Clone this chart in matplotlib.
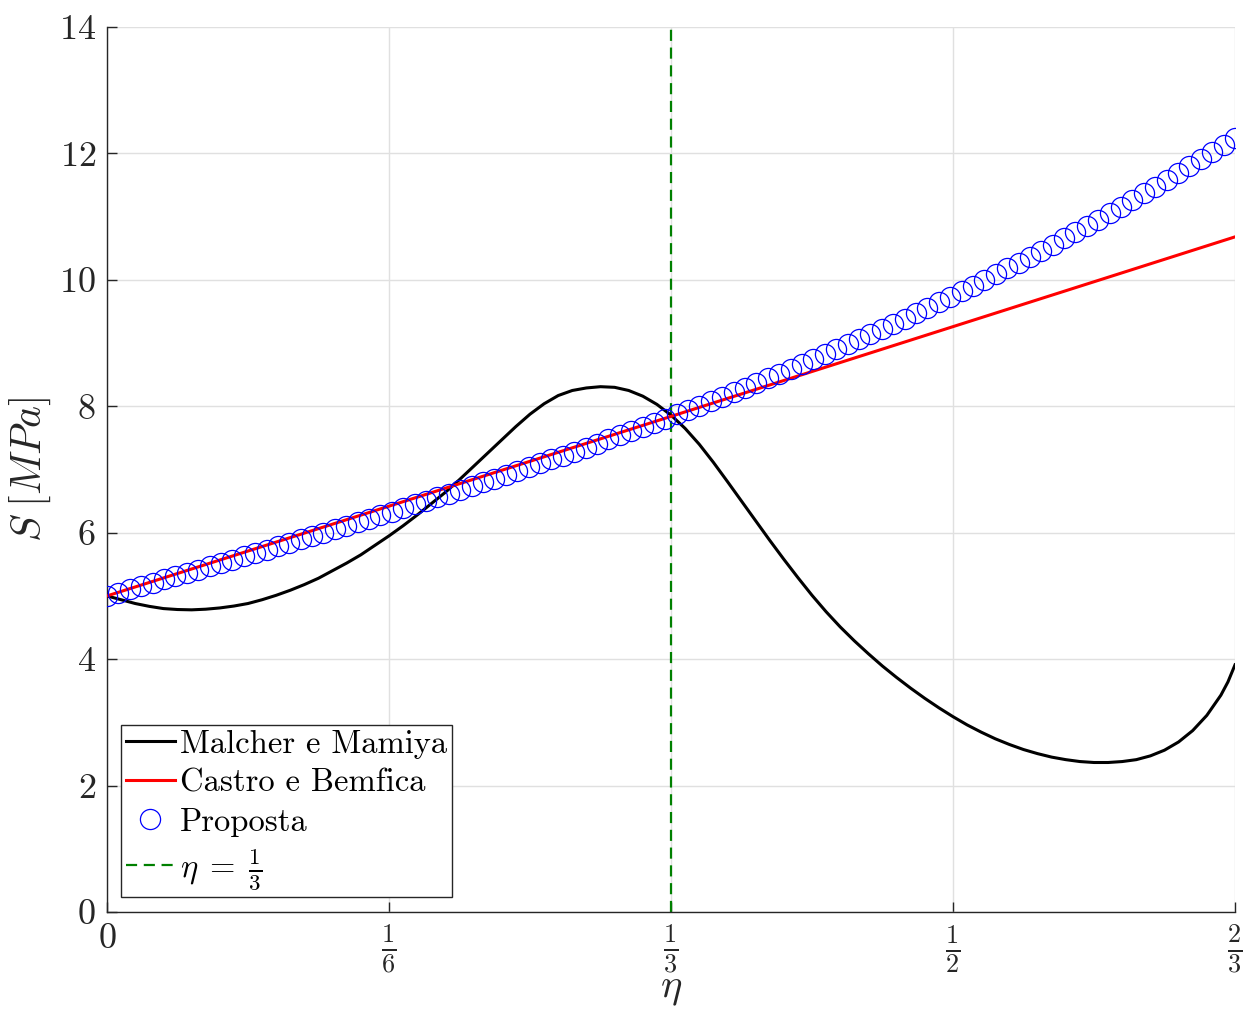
import numpy as np
import matplotlib
matplotlib.use("Agg")
import matplotlib.pyplot as plt

plt.rcParams['font.family'] = 'serif'
plt.rcParams['font.serif'] = ['cmr10']
plt.rcParams['mathtext.fontset'] = 'cm'
plt.rcParams['axes.unicode_minus'] = False

# ---------------- data ----------------
eta_max = 2 / 3

# Malcher e Mamiya
mm_x = [0.0, 0.00833, 0.01667, 0.025, 0.03333, 0.04167, 0.05, 0.05833, 0.06667, 0.075,
        0.08333, 0.09167, 0.1, 0.10833, 0.11667, 0.125, 0.13333, 0.14167, 0.15, 0.15833,
        0.16667, 0.175, 0.18333, 0.19167, 0.2, 0.20833, 0.21667, 0.225, 0.23333, 0.24167,
        0.25, 0.25833, 0.26667, 0.275, 0.28333, 0.29167, 0.3, 0.30833, 0.31667, 0.325,
        0.33333, 0.34167, 0.35, 0.35833, 0.36667, 0.375, 0.38333, 0.39167, 0.4, 0.40833,
        0.41667, 0.425, 0.43333, 0.44167, 0.45, 0.45833, 0.46667, 0.475, 0.48333, 0.49167,
        0.5, 0.50833, 0.51667, 0.525, 0.53333, 0.54167, 0.55, 0.55833, 0.56667, 0.575,
        0.58333, 0.59167, 0.6, 0.60833, 0.61667, 0.625, 0.63333, 0.64167, 0.65, 0.65833,
        0.6625, 0.66667]
mm_y = [5.00, 4.94, 4.88, 4.835, 4.80, 4.785, 4.78, 4.79, 4.81, 4.84,
        4.88, 4.94, 5.01, 5.09, 5.18, 5.28, 5.40, 5.52, 5.65, 5.80,
        5.95, 6.11, 6.28, 6.46, 6.64, 6.84, 7.05, 7.26, 7.47, 7.68,
        7.875, 8.04, 8.17, 8.25, 8.29, 8.31, 8.30, 8.25, 8.16, 8.03,
        7.86, 7.65, 7.40, 7.115, 6.81, 6.50, 6.19, 5.88, 5.58, 5.29,
        5.01, 4.75, 4.51, 4.29, 4.085, 3.89, 3.71, 3.54, 3.38, 3.23,
        3.09, 2.96, 2.845, 2.74, 2.65, 2.57, 2.505, 2.45, 2.41, 2.38,
        2.365, 2.365, 2.38, 2.41, 2.47, 2.56, 2.69, 2.87, 3.11, 3.43,
        3.64, 3.91]

# Castro e Bemfica (straight line)
cb_x = [0.0, 0.66667]
cb_y = [5.00, 10.68]

# Proposta (100 markers)
pr_y = [5.000, 5.052, 5.104, 5.156, 5.208, 5.260, 5.312, 5.365, 5.417, 5.470,
        5.522, 5.575, 5.628, 5.681, 5.734, 5.788, 5.841, 5.895, 5.949, 6.003,
        6.058, 6.113, 6.168, 6.223, 6.279, 6.335, 6.391, 6.448, 6.505, 6.562,
        6.620, 6.678, 6.737, 6.796, 6.855, 6.915, 6.975, 7.036, 7.097, 7.159,
        7.221, 7.284, 7.347, 7.411, 7.475, 7.540, 7.606, 7.672, 7.739, 7.806,
        7.874, 7.943, 8.012, 8.082, 8.153, 8.224, 8.296, 8.369, 8.442, 8.517,
        8.592, 8.667, 8.744, 8.822, 8.900, 8.979, 9.059, 9.140, 9.221, 9.304,
        9.387, 9.471, 9.557, 9.643, 9.730, 9.818, 9.907, 9.997, 10.088, 10.180,
        10.273, 10.367, 10.462, 10.558, 10.655, 10.754, 10.853, 10.954, 11.055, 11.158,
        11.262, 11.367, 11.473, 11.580, 11.689, 11.799, 11.910, 12.022, 12.136, 12.250]
pr_x = np.linspace(0, eta_max, len(pr_y))

eta_ref = 1 / 3

xticks = [0, 1/6, 1/3, 1/2, 2/3]
xticklabels = [r'$0$', r'$\frac{1}{6}$', r'$\frac{1}{3}$', r'$\frac{1}{2}$', r'$\frac{2}{3}$']
yticks = [0, 2, 4, 6, 8, 10, 12, 14]
yticklabels = [r'$%d$' % v for v in yticks]

# ---------------- plot ----------------
fig = plt.figure(figsize=(12.5, 10.11), dpi=100)
ax = fig.add_axes([107/1250, 99/1011, 1128/1250, 885/1011])

ax.plot(mm_x, mm_y, color='black', lw=2.2, label='Malcher e Mamiya', zorder=3)
ax.plot(cb_x, cb_y, color='red', lw=2.2, label='Castro e Bemfica', zorder=3)
ax.plot(pr_x, pr_y, linestyle='none', marker='o', markersize=14.5,
        markerfacecolor='none', markeredgecolor='blue', markeredgewidth=0.9,
        label='Proposta', zorder=4)
ax.plot([eta_ref, eta_ref], [0, 14], color=(0, 0.5, 0), lw=1.6,
        linestyle=(0, (5, 3)), label=r'$\eta\;=\;\frac{1}{3}$', zorder=2)

ax.set_xlim(0, eta_max)
ax.set_ylim(0, 14)
ax.set_xticks(xticks)
ax.set_xticklabels(xticklabels, fontsize=27)
ax.set_yticks(yticks)
ax.set_yticklabels(yticklabels, fontsize=26)
ax.get_xticklabels()[0].set_fontsize(26)

ax.grid(True, color=(0.88, 0.88, 0.88), lw=1.0)
ax.set_axisbelow(True)
for s in ['top', 'right']:
    ax.spines[s].set_visible(False)
for s in ['left', 'bottom']:
    ax.spines[s].set_color((0.15, 0.15, 0.15))
    ax.spines[s].set_linewidth(1.0)

ax.tick_params(direction='in', length=7, width=1.0, colors=(0.15, 0.15, 0.15), pad=8)

ax.set_xlabel(r'$\eta$', fontsize=29, color=(0.15, 0.15, 0.15))
ax.xaxis.set_label_coords(0.5, -0.068)
ax.set_ylabel(r'$S\;[MPa]$', fontsize=30, color=(0.15, 0.15, 0.15), labelpad=4)

leg = ax.legend(loc='lower left', bbox_to_anchor=(0.0124, 0.017), borderaxespad=0,
                fontsize=23.5, handlelength=1.5, handletextpad=0.15,
                labelspacing=0.3, borderpad=0.15, fancybox=False, framealpha=1,
                edgecolor=(0.15, 0.15, 0.15))
leg.get_frame().set_linewidth(1.0)

fig.savefig('out.png', dpi=100)
